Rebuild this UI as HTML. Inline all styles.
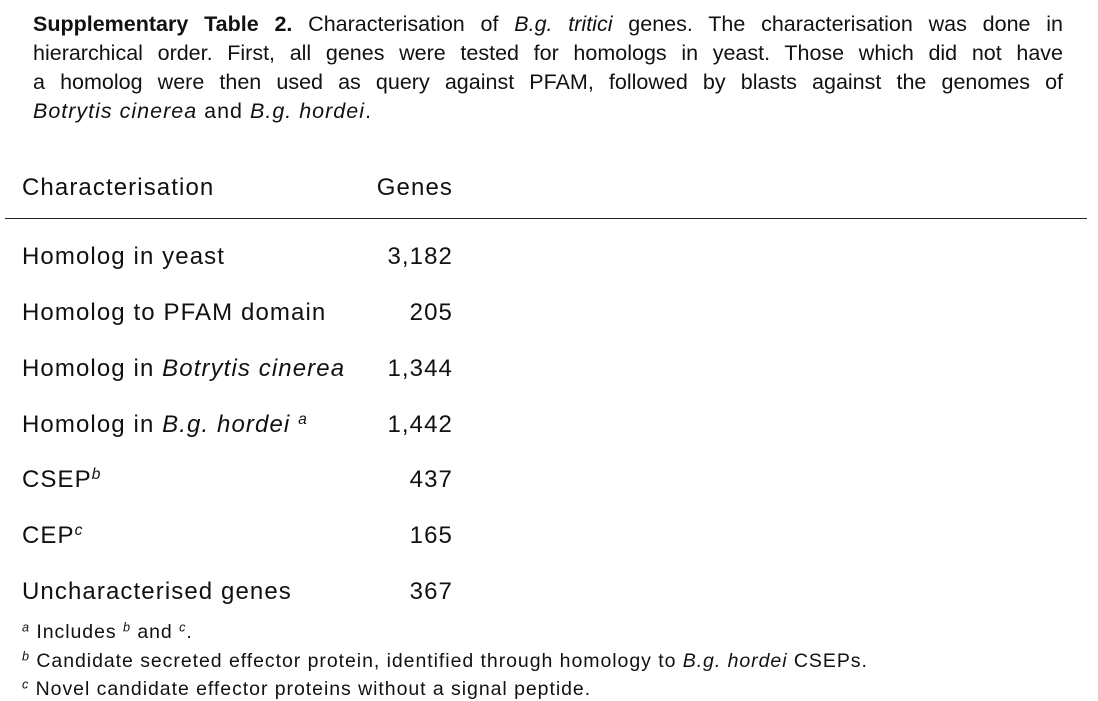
<!DOCTYPE html>
<html><head><meta charset="utf-8">
<style>
body{margin:0;width:1098px;height:701px;background:#fff;position:relative;font-family:"Liberation Sans",sans-serif;color:#111;overflow:hidden}
.cap{position:absolute;left:33px;width:1030px;font-size:21.5px;line-height:29px;white-space:nowrap;letter-spacing:1.0px}
.j{text-align:justify;text-align-last:justify;letter-spacing:0}
.t{position:absolute;font-size:24px;line-height:28px;white-space:nowrap;letter-spacing:1.1px}
.l{left:22px}
.r{right:645px;text-align:right}
.fn{position:absolute;left:22px;font-size:19.5px;line-height:22px;white-space:nowrap;letter-spacing:0.95px}
sup{font-size:65%;vertical-align:0.5em;line-height:0}
</style></head><body>
<div>
<div class="cap j" style="top:10px"><b>Supplementary Table 2.</b> Characterisation of <i>B.g. tritici</i> genes. The characterisation was done in</div>
<div class="cap j" style="top:39px">hierarchical order. First, all genes were tested for homologs in yeast. Those which did not have</div>
<div class="cap j" style="top:68px">a homolog were then used as query against PFAM, followed by blasts against the genomes of</div>
<div class="cap" style="top:97px"><i>Botrytis cinerea</i> and <i>B.g. hordei</i>.</div>
</div>
<div class="t l" style="top:174px">Characterisation</div>
<div class="t r" style="top:174px">Genes</div>
<div style="position:absolute;left:5px;top:218px;width:1082px;height:1px;background:#222"></div>

<div class="t l" style="top:243px">Homolog in yeast</div>
<div class="t r" style="top:243px">3,182</div>
<div class="t l" style="top:299px">Homolog to PFAM domain</div>
<div class="t r" style="top:299px">205</div>
<div class="t l" style="top:355px">Homolog in <i>Botrytis cinerea</i></div>
<div class="t r" style="top:355px">1,344</div>
<div class="t l" style="top:411px">Homolog in <i>B.g. hordei</i> <sup><i>a</i></sup></div>
<div class="t r" style="top:411px">1,442</div>
<div class="t l" style="top:466px">CSEP<sup><i>b</i></sup></div>
<div class="t r" style="top:466px">437</div>
<div class="t l" style="top:522px">CEP<sup><i>c</i></sup></div>
<div class="t r" style="top:522px">165</div>
<div class="t l" style="top:578px">Uncharacterised genes</div>
<div class="t r" style="top:578px">367</div>

<div class="fn" style="top:621px"><sup><i>a</i></sup> Includes <sup><i>b</i></sup> and <sup><i>c</i></sup>.</div>
<div class="fn" style="top:650px"><sup><i>b</i></sup> Candidate secreted effector protein, identified through homology to <i>B.g. hordei</i> CSEPs.</div>
<div class="fn" style="top:678px"><sup><i>c</i></sup> Novel candidate effector proteins without a signal peptide.</div>
</body></html>
